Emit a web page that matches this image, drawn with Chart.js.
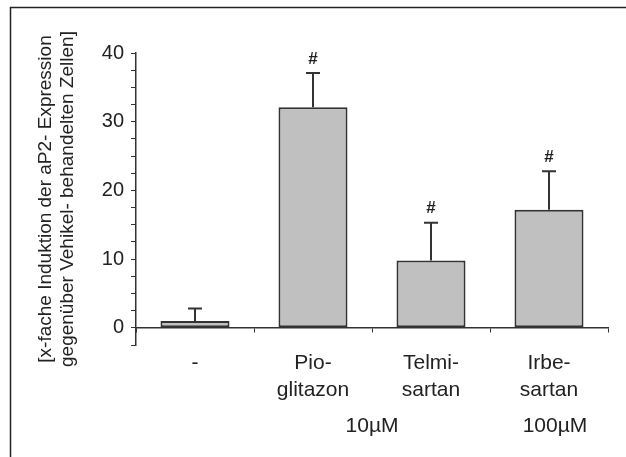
<!DOCTYPE html>
<html lang="de">
<head>
<meta charset="UTF-8">
<title>aP2-Expression</title>
<script src="https://cdn.jsdelivr.net/npm/chart.js"></script>
<style>
  body { margin: 0; background: #fff; }
  canvas { display: block; }
</style>
</head>
<body>
<canvas id="ap2Chart" width="626" height="457"></canvas>
<script>
// Behandlungen und Mittelwerte (x-fache Induktion)
const categories = [['-'], ['Pio-', 'glitazon'], ['Telmi-', 'sartan'], ['Irbe-', 'sartan']];
const induction = [1.0, 32.1, 9.8, 17.2];
const sd = [1.8, 5.0, 5.5, 5.6];
const significant = [false, true, true, true];
const doseLabels = ['10µM', '100µM'];
const yTicksShown = [0, 10, 20, 30, 40];

const ink = '#222';

// Rahmen oben/links
const framePlugin = {
  id: 'frame',
  beforeDraw(chart) {
    const ctx = chart.ctx;
    ctx.save();
    ctx.strokeStyle = ink;
    ctx.lineWidth = 1.5;
    ctx.beginPath();
    ctx.moveTo(10.5, 460);
    ctx.lineTo(10.5, 7.5);
    ctx.lineTo(630, 7.5);
    ctx.stroke();
    ctx.restore();
  }
};

// Fehlerbalken (nur nach oben) und Signifikanz-Rauten
const errorPlugin = {
  id: 'errorBars',
  afterDatasetsDraw(chart) {
    const ctx = chart.ctx;
    const y = chart.scales.y;
    const bars = chart.getDatasetMeta(0).data;
    ctx.save();
    ctx.strokeStyle = '#333';
    ctx.lineWidth = 2;
    bars.forEach((bar, i) => {
      const top = y.getPixelForValue(induction[i] + sd[i]);
      ctx.beginPath();
      ctx.moveTo(bar.x, bar.y);
      ctx.lineTo(bar.x, top);
      ctx.moveTo(bar.x - 7, top);
      ctx.lineTo(bar.x + 7, top);
      ctx.stroke();
      if (significant[i]) {
        ctx.fillStyle = ink;
        ctx.font = 'bold 17px "Liberation Sans", Arial, sans-serif';
        ctx.textAlign = 'center';
        ctx.textBaseline = 'middle';
        ctx.fillText('#', bar.x, top - 14);
      }
    });
    ctx.restore();
  }
};

// Konzentrationsangaben unter den Kategorien
const dosePlugin = {
  id: 'dose',
  afterDraw(chart) {
    const ctx = chart.ctx;
    const x = chart.scales.x;
    ctx.save();
    ctx.fillStyle = ink;
    ctx.font = '21px "Liberation Sans", Arial, sans-serif';
    ctx.textAlign = 'center';
    ctx.textBaseline = 'alphabetic';
    ctx.fillText(doseLabels[0], (x.getPixelForValue(1) + x.getPixelForValue(2)) / 2, 432);
    ctx.fillText(doseLabels[1], x.getPixelForValue(3) + 6, 432);
    ctx.restore();
  }
};

new Chart(document.getElementById('ap2Chart'), {
  type: 'bar',
  data: {
    labels: categories,
    datasets: [{
      data: induction,
      backgroundColor: '#c0c0c0',
      borderColor: '#333',
      borderWidth: 2,
      borderSkipped: false,
      barPercentage: 0.585,
      categoryPercentage: 1
    }]
  },
  options: {
    responsive: false,
    animation: false,
    devicePixelRatio: 1,
    layout: { padding: { left: 0, top: 53, right: 18, bottom: 112 } },
    plugins: { legend: { display: false }, tooltip: { enabled: false } },
    scales: {
      x: {
        position: { y: 0 },
        grid: { drawOnChartArea: false, drawTicks: true, tickLength: 4, color: '#333', offset: true },
        border: { display: true, color: '#333', width: 1.5 },
        ticks: {
          color: ink,
          padding: 18,
          font: { family: '"Liberation Sans", Arial, sans-serif', size: 21, lineHeight: 1.29 },
          maxRotation: 0
        }
      },
      y: {
        min: -2.5,
        max: 40,
        afterFit(scale) { scale.width = 136; },
        grid: { drawOnChartArea: false, drawTicks: true, tickLength: 5, color: '#333' },
        border: { display: true, color: '#333', width: 1.5 },
        ticks: {
          stepSize: 2.5,
          autoSkip: false,
          color: ink,
          padding: 7,
          font: { family: '"Liberation Sans", Arial, sans-serif', size: 20 },
          callback: v => yTicksShown.includes(v) ? v : ''
        },
        title: {
          display: true,
          text: ['[x-fache Induktion der aP2- Expression', 'gegenüber Vehikel- behandelten Zellen]'],
          color: ink,
          font: { family: '"Liberation Sans", Arial, sans-serif', size: 19, lineHeight: 1.2 },
          padding: { top: 34, bottom: 0 }
        }
      }
    }
  },
  plugins: [framePlugin, errorPlugin, dosePlugin]
});
</script>
</body>
</html>
